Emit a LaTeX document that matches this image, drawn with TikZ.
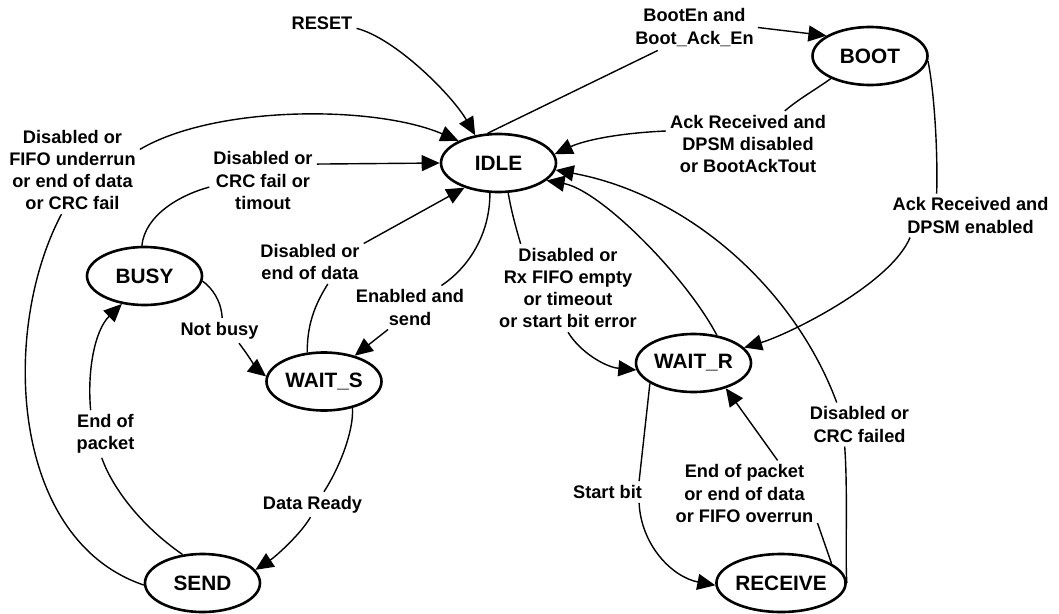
\documentclass[tikz,border=0pt]{standalone}
\usepackage{fontspec}
\setmainfont{Liberation Sans}
\usetikzlibrary{shapes.geometric,arrows.meta}
\newcommand\lblfont{\fontsize{18.2}{22.2}\selectfont\bfseries}
\newcommand\statefont{\fontsize{20.8}{24}\selectfont\bfseries}
\tikzset{
  state/.style={ellipse, draw, line width=2.6pt, minimum width=115pt, minimum height=58pt, inner sep=0pt, font=\statefont},
  lbl/.style={inner sep=4pt, align=center, font=\lblfont},
  tr/.style={line width=1.4pt},
  arr/.style={tr, -{Triangle[length=18pt,width=16pt]}}
}
\begin{document}
\begin{tikzpicture}[x=1pt,y=-1pt]
\fill[white] (0,0) rectangle (1059,613);
\useasboundingbox (0,0) rectangle (1059,613);

% states
\node[state] (IDLE) at (498.5,163) {IDLE};
\node[state] (BOOT) at (870,56) {BOOT};
\node[state] (BUSY) at (144.5,276) {BUSY};
\node[state] (WAITS) at (324,381.5) {WAIT\_S};
\node[state] (SEND) at (202.5,583) {SEND};
\node[state] (WAITR) at (693.5,363) {WAIT\_R};
\node[state] (RECEIVE) at (781,583) {RECEIVE};

% labels
\node[lbl] (RESET) at (322,23.5) {RESET};
\node[lbl] (L2) at (72.5,170) {Disabled or\\FIFO underrun\\or end of data\\or CRC fail};
\node[lbl] (L3) at (263,180.5) {Disabled or\\CRC fail or\\timout};
\node[lbl] (L4) at (310,262) {Disabled or\\end of data};
\node[lbl] (L5) at (410,307.5) {Enabled and\\send};
\node[lbl] (L6) at (219.5,330.5) {Not busy};
\node[lbl] (L7) at (105.5,434) {End of\\packet};
\node[lbl] (L8) at (312.5,504.5) {Data Ready};
\node[lbl] (L9) at (694.5,27.5) {BootEn and\\Boot\_Ack\_En};
\node[lbl] (L10) at (748,144) {Ack Received and\\DPSM disabled\\or BootAckTout};
\node[lbl] (L11) at (970.5,215.5) {Ack Received and\\DPSM enabled};
\node[lbl] (L13) at (859.5,424.5) {Disabled or\\CRC failed};
\node[lbl] (L14) at (568,288) {Disabled or\\Rx FIFO empty\\or timeout\\or start bit error};
\node[lbl] (L15) at (607.5,492) {Start bit};
\node[lbl] (L16) at (744.5,493.5) {End of packet\\or end of data\\or FIFO overrun};

% connectors
\draw[arr] (RESET.-8) .. controls (395,38) and (452,95) .. (IDLE.130);

\draw[tr] (SEND.182) .. controls (10,540) and (0,330) .. (L2.-104);
\draw[arr] (L2.17) .. controls (215,105) and (375,105) .. (IDLE.151);

\draw[tr] (BUSY.95) .. controls (145,215) and (180,195) .. (L3.187);
\draw[arr] (L3.17) -- (IDLE.180);

\draw[tr] (WAITS.120) .. controls (307,320) and (318,300) .. (L4.-51);
\draw[arr] (L4.19) -- (IDLE.216);

\draw[tr] (IDLE.254) .. controls (490,235) and (468,268) .. (L5.35);
\draw[arr] (L5.225) -- (WAITS.40);

\draw[tr] (BUSY.-5) .. controls (212,288) and (221,300) .. (L6.78);
\draw[arr] (L6.-33) .. controls (250,358) and (258,370) .. (WAITS.175);

\draw[tr] (SEND.125) .. controls (140,525) and (112,487) .. (L7.-99);
\draw[arr] (L7.122) .. controls (87,370) and (95,330) .. (BUSY.231);

\draw[tr] (WAITS.-43) .. controls (354,430) and (340,467) .. (L8.48);
\draw[arr] (L8.-99) .. controls (300,535) and (275,557) .. (SEND.14);

\draw[tr] (IDLE.110) -- (L9.212);
\draw[arr] (L9.0) -- (BOOT.155);

\draw[tr] (BOOT.210) .. controls (815,90) and (800,98) .. (L10.42);
\draw[arr] (L10.171) .. controls (620,133) and (585,140) .. (IDLE.9);

\draw[tr] (BOOT.-5) .. controls (934,90) and (938,150) .. (L11.147);
\draw[arr] (L11.200) .. controls (890,285) and (787,335) .. (WAITR.17);

\draw[arr] (WAITR.50) .. controls (685,275) and (600,190) .. (IDLE.-20);

\draw[tr] (RECEIVE.0) .. controls (845,560) and (848,490) .. (L13.-124);
\draw[arr] (L13.136) .. controls (795,290) and (690,195) .. (IDLE.-7);

\draw[tr] (IDLE.-72) .. controls (511,210) and (516,228) .. (L14.137);
\draw[arr] (L14.-90) .. controls (580,352) and (605,367) .. (WAITR.187);

\draw[tr] (WAITR.205) -- (L15.19);
\draw[arr] (L15.-19) .. controls (641,545) and (672,577) .. (RECEIVE.182);

\draw[tr] (RECEIVE.21) -- (L16.-22);
\draw[arr] (L16.45) -- (WAITR.-38);
\end{tikzpicture}
\end{document}
